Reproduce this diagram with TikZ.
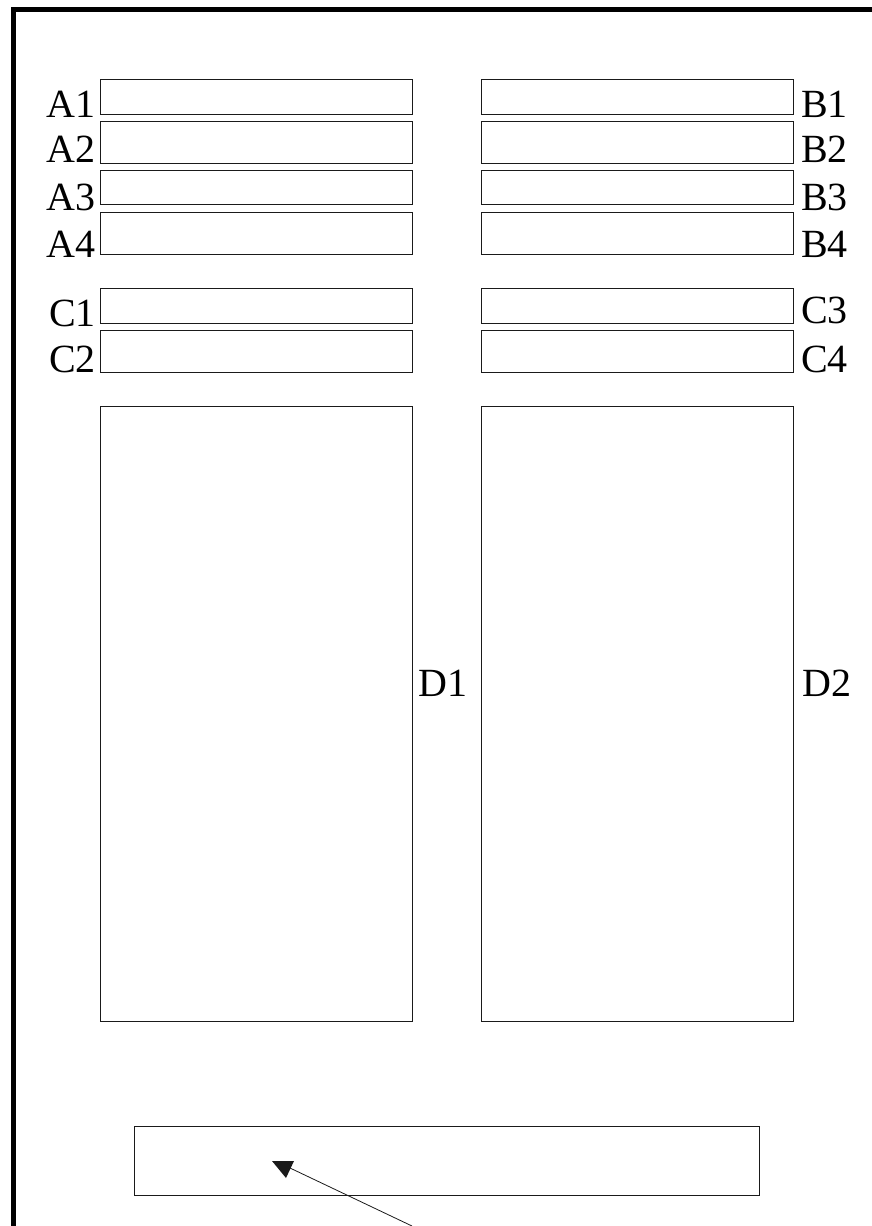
\documentclass[tikz,border=0pt]{standalone}
\usepackage{fontspec}
\setmainfont{Liberation Serif}
\usetikzlibrary{positioning,calc}
\definecolor{Ink}{HTML}{1A1A1A}
\tikzset{
  frame/.style={draw=black,line width=5pt,line join=miter},
  slot/.style={draw=Ink,line width=0.9pt,inner sep=0pt,anchor=north west,minimum width=312pt},
  tag/.style={inner sep=0pt,font=\fontsize{40}{40}\selectfont},
  pointer/.style={draw=Ink,line width=0.8pt}
}

\begin{document}
\begin{tikzpicture}[x=1pt,y=-1pt]
  \useasboundingbox (0,0) rectangle (871,1226);
  \draw[frame] (13.5,1232) -- (13.5,9.5) -- (877,9.5);
  % A / B rows
  \foreach \n/\top/\h/\base in {1/79/35/117,2/121/42/162,3/170/34/210,4/212/42/257}{
    \node[slot,minimum height=\h pt] (A\n) at (100,\top) {};
    \node[slot,minimum height=\h pt] (B\n) at (481,\top) {};
    \node[tag,anchor=base east] (tA\n) at (96,\base) {A\n};
    \node[tag,anchor=base west] (tB\n) at (801,\base) {B\n};
  }
  % C rows
  \node[slot,minimum height=35pt] (C1) at (100,288) {};
  \node[slot,minimum height=42pt] (C2) at (100,330) {};
  \node[slot,minimum height=35pt] (C3) at (481,288) {};
  \node[slot,minimum height=42pt] (C4) at (481,330) {};
  \node[tag,anchor=base east] (tC1) at (96,326) {C1};
  \node[tag,anchor=base east] (tC2) at (96,372) {C2};
  \node[tag,anchor=base west] (tC3) at (801,323) {C3};
  \node[tag,anchor=base west] (tC4) at (801,372) {C4};
  % tall panels
  \node[slot,minimum height=615pt] (D1) at (100,406) {};
  \node[slot,minimum height=615pt] (D2) at (481,406) {};
  \node[tag,anchor=base west] (tD1) at (418,696) {D1};
  \node[tag,anchor=base west] (tD2) at (802,696) {D2};
  % bottom bar and pointer
  \node[slot,minimum width=625pt,minimum height=69pt] (bar) at (134,1126) {};
  \coordinate (tail) at (412,1226);
  \coordinate (head) at (290,1168);
  \draw[pointer] (tail) -- (head);
  \fill[Ink] ($(head)+(-18,-7)$) -- ($(head)+(4,-7)$) -- ($(head)+(-4,10)$) -- cycle;
\end{tikzpicture}
\end{document}
